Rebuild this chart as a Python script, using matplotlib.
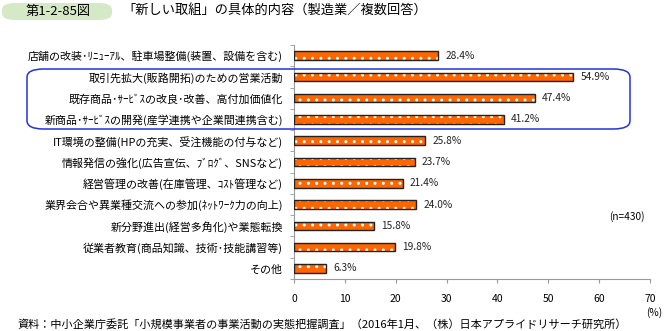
import matplotlib
matplotlib.use("Agg")
import matplotlib.pyplot as plt
from matplotlib.patches import FancyBboxPatch

plt.rcParams['font.family'] = ['Noto Sans CJK JP', 'DejaVu Sans']
plt.rcParams['hatch.linewidth'] = 1.0

categories = [
    "店舗の改装･ﾘﾆｭｰｱﾙ、駐車場整備(装置、設備を含む)",
    "取引先拡大(販路開拓)のための営業活動",
    "既存商品･ｻｰﾋﾞｽの改良･改善、高付加価値化",
    "新商品･ｻｰﾋﾞｽの開発(産学連携や企業間連携含む)",
    "IT環境の整備(HPの充実、受注機能の付与など)",
    "情報発信の強化(広告宣伝、ﾌﾞﾛｸﾞ、SNSなど)",
    "経営管理の改善(在庫管理、ｺｽﾄ管理など)",
    "業界会合や異業種交流への参加(ﾈｯﾄﾜｰｸ力の向上)",
    "新分野進出(経営多角化)や業態転換",
    "従業者教育(商品知識、技術･技能講習等)",
    "その他",
]
values = [28.4, 54.9, 47.4, 41.2, 25.8, 23.7, 21.4, 24.0, 15.8, 19.8, 6.3]
xticks = [0, 10, 20, 30, 40, 50, 60, 70]

W, H = 665, 331
fig = plt.figure(figsize=(W / 100, H / 100), dpi=100)
ax = fig.add_axes([294 / W, 1 - 279 / H, (650 - 294) / W, (279 - 45) / H])

y = list(range(len(categories)))
ax.barh(y, values, height=0.4, color='#ff6600', edgecolor='white',
        linewidth=0, hatch='..', zorder=2)
ax.barh(y, values, height=0.4, fill=False, edgecolor='#222222',
        linewidth=1.0, zorder=3)
for yi, v in zip(y, values):
    ax.text(v + 1.4, yi, f"{v:.1f}%", va='center', ha='left', fontsize=7.3,
            color='#222222')

ax.set_xlim(0, 70)
ax.set_ylim(len(categories) - 0.5, -0.5)
ax.set_xticks(xticks)
ax.set_xticklabels([str(t) for t in xticks], fontsize=7.5)
ax.set_yticks(y)
ax.set_yticklabels(categories, fontsize=7.9)
ax.set_yticks([i + 0.5 for i in range(-1, len(categories))], minor=True)
ax.tick_params(axis='y', which='major', length=0, pad=8)
ax.tick_params(axis='y', which='minor', length=3, color='#999999')
ax.tick_params(axis='x', length=3, color='#999999', pad=8)
for s in ['top', 'right']:
    ax.spines[s].set_visible(False)
for s in ['left', 'bottom']:
    ax.spines[s].set_color('#999999')
    ax.spines[s].set_linewidth(0.8)

# n label and unit
fig.text(627 / W, 1 - 217 / H, "(n=430)", ha='center', va='center', fontsize=7.3)
fig.text(654 / W, 1 - 313 / H, "(%)", ha='center', va='center', fontsize=7.3)

# title
fig.patches.append(FancyBboxPatch((2 / W, 1 - 20 / H), 110 / W, 17 / H,
                                  boxstyle="round,pad=0,rounding_size=0.02",
                                  transform=fig.transFigure, facecolor='#d6e9c6',
                                  edgecolor='none'))
fig.text(58 / W, 1 - 11.5 / H, "第1-2-85図", ha='center', va='center', fontsize=9.5)
fig.text(122 / W, 1 - 11.5 / H, "「新しい取組」の具体的内容（製造業／複数回答）",
         ha='left', va='center', fontsize=9.5)

# highlight box
fig.patches.append(FancyBboxPatch((27 / W, 1 - 129 / H), (630 - 27) / W, (129 - 69) / H,
                                  boxstyle="round,pad=0,rounding_size=0.025",
                                  transform=fig.transFigure, facecolor='none',
                                  edgecolor='#2233dd', linewidth=1.1))

# source
fig.text(18 / W, 1 - 324 / H,
         "資料：中小企業庁委託「小規模事業者の事業活動の実態把握調査」（2016年1月、（株）日本アプライドリサーチ研究所）",
         ha='left', va='center', fontsize=8.0)

fig.savefig("out.png", dpi=100)
